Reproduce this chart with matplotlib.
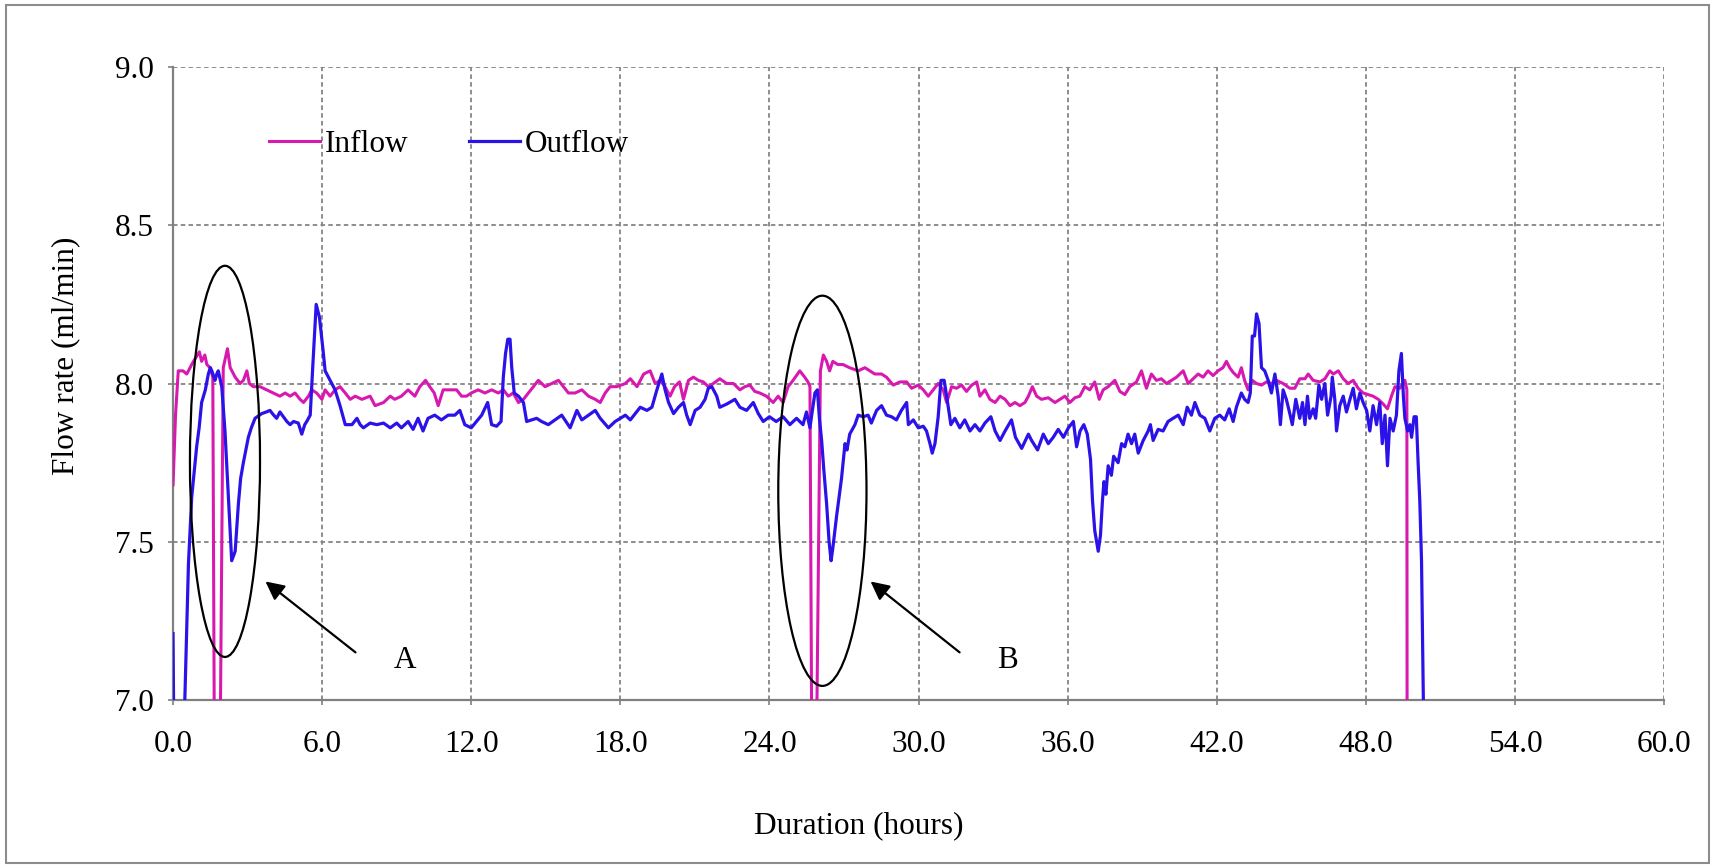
import matplotlib
matplotlib.use("Agg")
import matplotlib.pyplot as plt
from matplotlib.patches import Ellipse, Rectangle

plt.rcParams['font.family'] = ['Liberation Serif', 'DejaVu Serif']

# time (hours), flow (ml/min); values <= 7.0 are off-scale
inflow_t = [0.00, 0.10, 0.21, 0.40, 0.55, 0.62, 0.75, 0.90, 1.06, 1.15, 1.28, 1.36, 1.49, 1.60, 1.66, 1.90,
            2.02, 2.19, 2.30, 2.50, 2.70, 2.83, 2.97, 3.07, 3.23, 3.50, 3.77, 4.04, 4.30, 4.51, 4.71, 4.91,
            5.11, 5.25, 5.45, 5.58, 5.78, 5.99, 6.12, 6.32, 6.52, 6.72, 6.93, 7.13, 7.33, 7.60, 7.93, 8.13,
            8.47, 8.74, 8.92, 9.19, 9.46, 9.73, 9.93, 10.16, 10.33, 10.51, 10.67, 10.87, 11.14, 11.41,
            11.61, 11.81, 12.00, 12.28, 12.55, 12.82, 13.09, 13.29, 13.49, 13.69, 13.90, 14.10, 14.30,
            14.50, 14.70, 14.97, 15.24, 15.51, 15.71, 15.91, 16.18, 16.45, 16.72, 16.99, 17.19, 17.39,
            17.59, 17.86, 18.20, 18.40, 18.67, 18.94, 19.20, 19.40, 19.60, 19.80, 20.00, 20.18, 20.38,
            20.54, 20.74, 20.94, 21.14, 21.34, 21.54, 21.74, 22.00, 22.28, 22.55, 22.81, 23.01, 23.21,
            23.41, 23.61, 23.88, 24.15, 24.35, 24.55, 24.75, 24.95, 25.22, 25.42, 25.55, 25.63, 25.70,
            25.90, 26.05, 26.17, 26.30, 26.42, 26.55, 26.75, 26.96, 27.22, 27.57, 27.84, 28.04, 28.24,
            28.51, 28.71, 28.98, 29.25, 29.52, 29.72, 29.99, 30.19, 30.39, 30.59, 30.79, 30.99, 31.13,
            31.33, 31.53, 31.73, 31.93, 32.14, 32.34, 32.47, 32.67, 32.87, 33.08, 33.28, 33.48, 33.68,
            33.88, 34.08, 34.28, 34.42, 34.58, 34.75, 34.95, 35.22, 35.49, 35.69, 35.89, 36.09, 36.29,
            36.49, 36.69, 36.89, 37.09, 37.27, 37.43, 37.63, 37.90, 38.10, 38.30, 38.50, 38.77, 38.97,
            39.17, 39.37, 39.57, 39.77, 39.98, 40.18, 40.38, 40.65, 40.85, 41.05, 41.25, 41.45, 41.65,
            41.85, 42.05, 42.25, 42.39, 42.52, 42.66, 42.86, 42.99, 43.12, 43.26, 43.43, 43.60, 43.80,
            44.00, 44.20, 44.40, 44.67, 44.94, 45.14, 45.34, 45.55, 45.68, 45.88, 46.15, 46.35, 46.55,
            46.69, 46.89, 47.09, 47.29, 47.49, 47.69, 47.89, 48.09, 48.29, 48.50, 48.70, 48.87, 49.03,
            49.17, 49.37, 49.57, 49.65, 49.66]
inflow_v = [7.68, 7.90, 8.04, 8.04, 8.03, 8.04, 8.06, 8.08, 8.10, 8.07, 8.09, 8.06, 8.05, 8.02, 6.90, 6.90,
            8.05, 8.11, 8.05, 8.02, 8.00, 8.01, 8.04, 8.00, 7.99, 7.99, 7.98, 7.97, 7.96, 7.97, 7.96, 7.97,
            7.95, 7.94, 7.96, 7.98, 7.97, 7.95, 7.98, 7.96, 7.98, 7.99, 7.97, 7.95, 7.96, 7.95, 7.96, 7.93,
            7.94, 7.96, 7.95, 7.96, 7.98, 7.96, 7.99, 8.01, 7.99, 7.97, 7.93, 7.98, 7.98, 7.98,
            7.96, 7.96, 7.97, 7.98, 7.97, 7.98, 7.97, 7.98, 7.96, 7.97, 7.94, 7.95, 7.97,
            7.99, 8.01, 7.99, 8.00, 8.01, 7.99, 7.97, 7.97, 7.98, 7.96, 7.95, 7.94, 7.97,
            7.99, 7.99, 8.00, 8.015, 7.99, 8.03, 8.04, 8.00, 8.01, 7.99, 7.96, 7.99, 8.005,
            7.95, 8.01, 8.02, 8.01, 8.005, 7.99, 8.00, 8.015, 8.00, 8.00, 7.98, 7.99, 7.995,
            7.975, 7.97, 7.96, 7.94, 7.96, 7.94, 7.99, 8.01, 8.04, 8.02, 8.005, 7.99, 6.90,
            6.90, 8.04, 8.09, 8.07, 8.04, 8.07, 8.06, 8.06, 8.05, 8.04, 8.05, 8.04, 8.03,
            8.03, 8.02, 7.995, 8.005, 8.005, 7.985, 7.995, 7.98, 7.96, 7.98, 8.00, 7.98, 7.94,
            7.99, 7.985, 7.995, 7.975, 7.995, 8.005, 7.96, 7.98, 7.95, 7.94, 7.96, 7.95, 7.93,
            7.94, 7.93, 7.94, 7.96, 7.99, 7.96, 7.95, 7.955, 7.94, 7.95, 7.96, 7.94, 7.955,
            7.96, 7.99, 7.98, 8.005, 7.95, 7.98, 7.99, 8.01, 7.975, 7.965, 7.99, 8.005, 8.04,
            7.985, 8.03, 8.01, 8.015, 8.00, 8.01, 8.02, 8.04, 8.00, 8.015, 8.03, 8.02, 8.04,
            8.025, 8.04, 8.05, 8.07, 8.05, 8.035, 8.02, 8.05, 8.01, 7.98, 8.01, 8.00, 7.995,
            8.005, 8.00, 8.01, 8.00, 7.985, 7.985, 8.015, 8.015, 8.03, 8.01, 8.005, 8.015, 8.04,
            8.03, 8.04, 8.015, 8.00, 8.01, 7.985, 7.97, 7.965, 7.96, 7.95, 7.935, 7.92, 7.96,
            7.99, 7.985, 8.01, 7.98, 6.90]

outflow_t = [0.00, 0.03, 0.44, 0.62, 0.75, 0.95, 1.05, 1.15, 1.30, 1.42, 1.50, 1.56, 1.69, 1.76, 1.82, 1.96,
             2.09, 2.23, 2.36, 2.50, 2.63, 2.72, 2.83, 3.03, 3.15, 3.30, 3.57, 3.75, 3.90, 4.05, 4.17, 4.30,
             4.44, 4.58, 4.71, 4.85, 5.04, 5.18, 5.30, 5.38, 5.52, 5.62, 5.76, 5.89, 6.03, 6.12, 6.32, 6.52,
             6.72, 6.93, 7.20, 7.40, 7.53, 7.66, 7.93, 8.20, 8.47, 8.74, 9.00, 9.19, 9.46, 9.66, 9.86,
             10.06, 10.26, 10.53, 10.80, 11.07, 11.34, 11.54, 11.74, 12.00, 12.21, 12.42, 12.66, 12.82,
             13.02, 13.20, 13.29, 13.38, 13.47, 13.56, 13.63, 13.73, 13.90, 14.10, 14.23, 14.43, 14.63,
             14.83, 15.10, 15.37, 15.64, 15.98, 16.25, 16.45, 16.72, 16.99, 17.19, 17.52, 17.79, 18.00,
             18.20, 18.40, 18.60, 18.80, 19.07, 19.27, 19.47, 19.67, 19.80, 19.94, 20.14, 20.34, 20.54,
             20.67, 20.81, 21.01, 21.21, 21.41, 21.54, 21.68, 21.88, 22.00, 22.28, 22.61, 22.81, 23.08,
             23.35, 23.55, 23.75, 24.00, 24.27, 24.55, 24.82, 25.09, 25.35, 25.49, 25.63, 25.70, 25.83,
             25.93, 26.01, 26.10, 26.18, 26.30, 26.40, 26.48, 26.55, 26.70, 26.90, 27.04, 27.12, 27.23,
             27.44, 27.57, 27.77, 27.97, 28.10, 28.31, 28.51, 28.71, 28.91, 29.11, 29.31, 29.52, 29.59,
             29.79, 29.99, 30.19, 30.32, 30.46, 30.55, 30.66, 30.79, 30.90, 31.03, 31.13, 31.30, 31.46,
             31.66, 31.86, 32.07, 32.27, 32.47, 32.67, 32.91, 33.08, 33.28, 33.48, 33.74, 33.90, 34.15,
             34.42, 34.55, 34.79, 35.02, 35.22, 35.42, 35.62, 35.83, 36.03, 36.23, 36.36, 36.50, 36.65,
             36.79, 36.92, 37.00, 37.09, 37.23, 37.32, 37.40, 37.46, 37.54, 37.63, 37.76, 37.85, 38.03,
             38.17, 38.30, 38.43, 38.57, 38.70, 38.84, 39.04, 39.24, 39.33, 39.44, 39.64, 39.84, 40.04,
             40.24, 40.45, 40.65, 40.81, 40.98, 41.12, 41.32, 41.52, 41.72, 41.92, 42.12, 42.32, 42.50,
             42.66, 42.79, 42.99, 43.12, 43.26, 43.35, 43.43, 43.52, 43.60, 43.70, 43.80, 43.93, 44.07,
             44.20, 44.34, 44.47, 44.56, 44.67, 44.80, 44.94, 45.04, 45.18, 45.34, 45.45, 45.55, 45.65,
             45.74, 45.88, 45.98, 46.11, 46.22, 46.35, 46.46, 46.60, 46.65, 46.75, 46.82, 46.95, 47.09,
             47.22, 47.36, 47.49, 47.62, 47.76, 47.89, 48.03, 48.16, 48.29, 48.43, 48.56, 48.66, 48.77,
             48.87, 48.97, 49.10, 49.23, 49.33, 49.43, 49.51, 49.57, 49.68, 49.77, 49.84, 49.94, 50.03,
             50.10, 50.17, 50.24, 50.33]
outflow_v = [7.21, 6.90, 6.90, 7.43, 7.64, 7.80, 7.86, 7.94, 7.98, 8.03, 8.05, 8.04, 8.01, 8.03, 8.04, 7.99,
             7.85, 7.64, 7.44, 7.47, 7.62, 7.70, 7.75, 7.83, 7.86, 7.89, 7.905, 7.91, 7.915, 7.90, 7.89, 7.91,
             7.895, 7.88, 7.87, 7.88, 7.875, 7.84, 7.87, 7.88, 7.90, 8.05, 8.25, 8.21, 8.11, 8.04, 8.01, 7.98,
             7.93, 7.87, 7.87, 7.89, 7.87, 7.86, 7.875, 7.87, 7.875, 7.86, 7.875, 7.86, 7.88, 7.855, 7.89,
             7.85, 7.89, 7.90, 7.885, 7.90, 7.90, 7.915, 7.87, 7.86, 7.88, 7.90, 7.94, 7.87,
             7.865, 7.88, 8.02, 8.095, 8.14, 8.14, 8.05, 7.97, 7.96, 7.94, 7.88, 7.885, 7.89,
             7.88, 7.87, 7.885, 7.90, 7.86, 7.915, 7.885, 7.90, 7.915, 7.89, 7.86, 7.88, 7.89,
             7.90, 7.885, 7.905, 7.925, 7.915, 7.925, 7.98, 8.03, 7.98, 7.94, 7.905, 7.925, 7.94,
             7.90, 7.87, 7.915, 7.925, 7.95, 7.985, 7.99, 7.96, 7.925, 7.935, 7.95, 7.925, 7.915,
             7.94, 7.905, 7.88, 7.895, 7.88, 7.895, 7.87, 7.89, 7.87, 7.91, 7.86, 7.90, 7.97,
             7.98, 7.89, 7.82, 7.735, 7.62, 7.50, 7.44, 7.48, 7.58, 7.70, 7.81, 7.79, 7.84,
             7.87, 7.90, 7.895, 7.90, 7.875, 7.915, 7.93, 7.90, 7.895, 7.885, 7.915, 7.94, 7.87,
             7.885, 7.86, 7.865, 7.85, 7.81, 7.78, 7.81, 7.895, 8.01, 8.01, 7.96, 7.87, 7.89,
             7.86, 7.885, 7.85, 7.87, 7.85, 7.875, 7.895, 7.85, 7.82, 7.85, 7.885, 7.83, 7.795,
             7.84, 7.82, 7.79, 7.84, 7.81, 7.83, 7.855, 7.83, 7.86, 7.88, 7.80, 7.85, 7.87,
             7.84, 7.76, 7.63, 7.535, 7.47, 7.52, 7.63, 7.69, 7.65, 7.74, 7.71, 7.77, 7.75,
             7.81, 7.80, 7.84, 7.81, 7.84, 7.78, 7.82, 7.85, 7.87, 7.82, 7.855, 7.85, 7.88,
             7.89, 7.90, 7.87, 7.925, 7.90, 7.94, 7.90, 7.89, 7.85, 7.89, 7.90, 7.885, 7.92,
             7.88, 7.925, 7.97, 7.95, 7.94, 7.97, 8.15, 8.15, 8.22, 8.19, 8.05, 8.04, 8.01,
             7.97, 8.03, 7.96, 7.87, 7.98, 7.95, 7.905, 7.87, 7.95, 7.89, 7.94, 7.87, 7.96,
             7.89, 7.92, 7.89, 7.995, 7.95, 8.00, 7.90, 7.96, 8.02, 7.95, 7.85, 7.93, 7.96,
             7.91, 7.95, 7.985, 7.92, 7.97, 7.94, 7.915, 7.85, 7.93, 7.87, 7.94, 7.81, 7.90,
             7.74, 7.89, 7.85, 7.90, 8.04, 8.095, 7.96, 7.89, 7.85, 7.87, 7.83, 7.895, 7.895,
             7.755, 7.63, 7.44, 6.90]

x_ticks = [0, 6, 12, 18, 24, 30, 36, 42, 48, 54, 60]
y_ticks = [7.0, 7.5, 8.0, 8.5, 9.0]

fig = plt.figure(figsize=(17.15, 8.66), dpi=100)
ax = fig.add_axes([0.1009, 0.1917, 0.8694, 0.7309])

ax.plot(inflow_t, inflow_v, color='#D819B0', lw=2.2, label='Inflow', zorder=3)
ax.plot(outflow_t, outflow_v, color='#2B12E8', lw=2.3, label='Outflow', zorder=4)

ax.set_xlim(0, 60)
ax.set_ylim(7.0, 9.0)
ax.set_xticks(x_ticks)
ax.set_yticks(y_ticks)
ax.set_xticklabels([f"{v:.1f}" for v in x_ticks])
ax.set_yticklabels([f"{v:.1f}" for v in y_ticks])
ax.grid(True, color='#858585', linestyle=(0, (2.5, 1.8)), lw=1.3, zorder=0)
ax.tick_params(direction='out', length=3.6, width=1.2, color='#808080', labelsize=22.5)
ax.tick_params(axis='x', pad=18)
ax.tick_params(axis='y', pad=10)
for s in ['top', 'right']:
    ax.spines[s].set_visible(False)
for s in ['left', 'bottom']:
    ax.spines[s].set_color('#808080')
    ax.spines[s].set_linewidth(1.6)

# annotations A and B
ax.add_patch(Ellipse((2.09, 7.754), 2.82, 1.236, fill=False, ec='black', lw=1.6, zorder=5))
ax.add_patch(Ellipse((26.13, 7.661), 3.55, 1.233, fill=False, ec='black', lw=1.6, zorder=5))
ax.annotate('', xy=(3.63, 7.38), xytext=(7.43, 7.145),
            arrowprops=dict(arrowstyle='-|>', color='black', lw=1.6, mutation_scale=28))
ax.annotate('', xy=(27.98, 7.38), xytext=(31.74, 7.145),
            arrowprops=dict(arrowstyle='-|>', color='black', lw=1.6, mutation_scale=28))
ax.text(9.34, 7.126, 'A', fontsize=22.5, ha='center', va='center')
ax.text(33.59, 7.126, 'B', fontsize=22.5, ha='center', va='center')

fig.legend(loc='center left', bbox_to_anchor=(269 / 1715, 1 - 144 / 866), ncol=2, frameon=False,
           fontsize=22.5, handlelength=1.63, handletextpad=0.15, columnspacing=1.95,
           borderpad=0, borderaxespad=0)

fig.text(0.5007, 0.0462, 'Duration (hours)', fontsize=22.5, ha='center', va='center')
fig.text(0.0383, 0.5895, 'Flow rate (ml/min)', fontsize=22.5, ha='center', va='center', rotation=90)

fig.patches.append(Rectangle((0.0035, 0.003), 0.993, 0.991, transform=fig.transFigure,
                             fill=False, ec='#8c8c8c', lw=1.5))

fig.savefig('out.png', dpi=100)
